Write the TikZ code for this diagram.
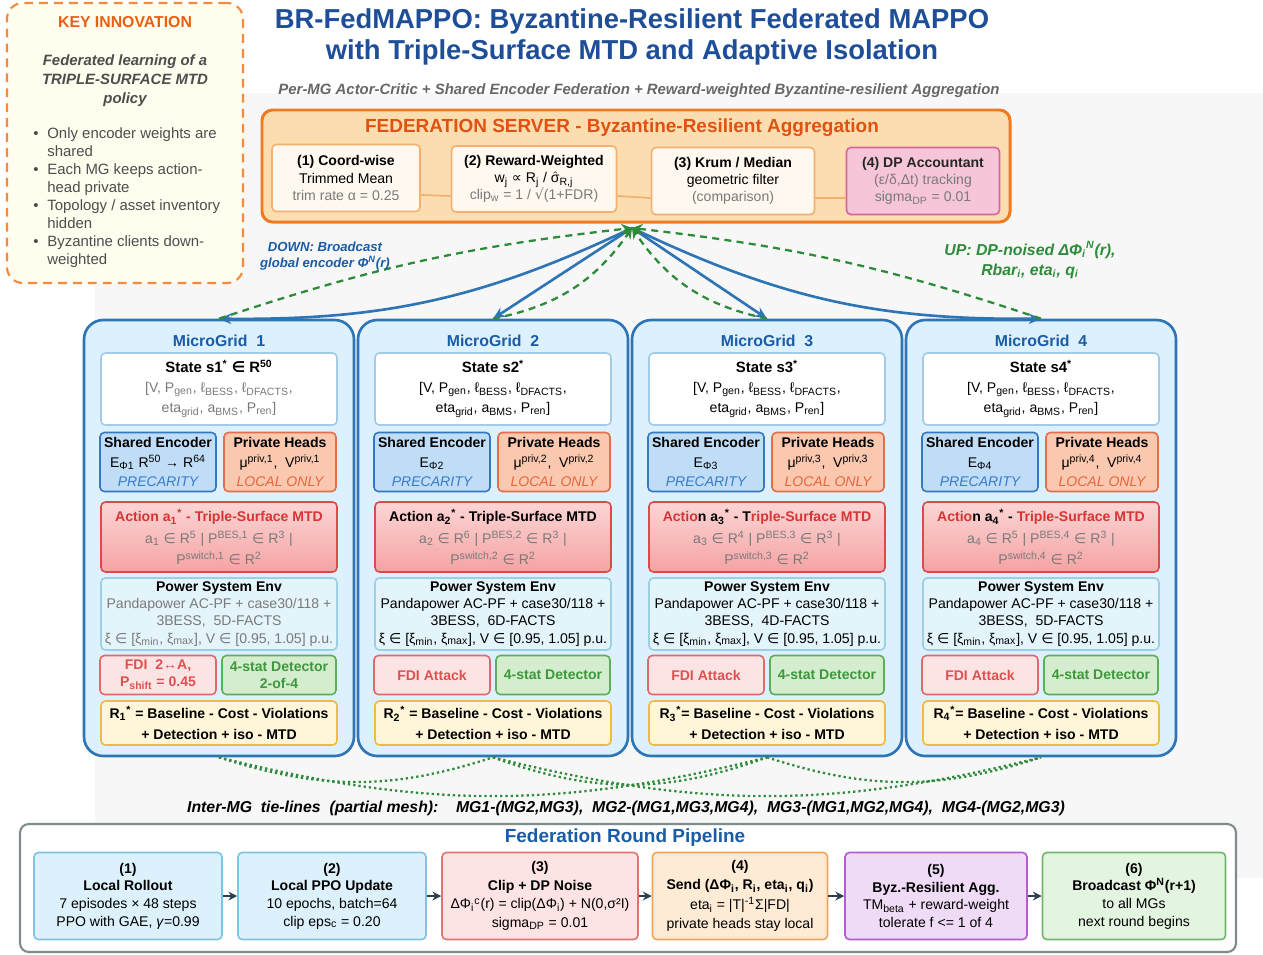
\documentclass[tikz,border=0pt]{standalone}
\usepackage{fontspec}
\setmainfont{Liberation Sans}
\newfontfamily\symfont{DejaVu Sans}
\usetikzlibrary{arrows.meta}
\definecolor{titleblue}{HTML}{1F4E99}
\definecolor{subgray}{HTML}{666666}
\definecolor{panelgray}{HTML}{F7F7F7}
\definecolor{txtgray}{HTML}{7A7A7A}
\definecolor{txtdark}{HTML}{4D4D4D}
\definecolor{keyorange}{HTML}{F58A3C}
\definecolor{keyfill}{HTML}{FFFDEE}
\definecolor{keytitle}{HTML}{E8600F}
\definecolor{srvorange}{HTML}{F07A22}
\definecolor{srvfill}{HTML}{FCDDB0}
\definecolor{srvtitle}{HTML}{E0520F}
\definecolor{aggfill}{HTML}{FFF8EE}
\definecolor{aggdraw}{HTML}{F5B070}
\definecolor{dpfill}{HTML}{F7C5D8}
\definecolor{dpdraw}{HTML}{D565A0}
\definecolor{mgblue}{HTML}{2E75B6}
\definecolor{mgfill}{HTML}{DDF0FD}
\definecolor{mgtitlecol}{HTML}{1A5CA6}
\definecolor{stdraw}{HTML}{A3CBE8}
\definecolor{encfill}{HTML}{BFDDF6}
\definecolor{encdraw}{HTML}{3478C0}
\definecolor{precol}{HTML}{3A7BC8}
\definecolor{hdfill}{HTML}{FAC7AF}
\definecolor{hddraw}{HTML}{E36F4A}
\definecolor{loccol}{HTML}{E8673F}
\definecolor{acttop}{HTML}{FCD5D5}
\definecolor{actbot}{HTML}{F5A3A3}
\definecolor{actdraw}{HTML}{DE4A4A}
\definecolor{actred}{HTML}{D63535}
\definecolor{envfill}{HTML}{E3F4FB}
\definecolor{envdraw}{HTML}{9BCFE4}
\definecolor{fdifill}{HTML}{FDE4E4}
\definecolor{fdidraw}{HTML}{E06A6A}
\definecolor{fdicol}{HTML}{E05050}
\definecolor{detfill}{HTML}{D4EDCE}
\definecolor{detdraw}{HTML}{5DAE58}
\definecolor{detcol}{HTML}{3D993A}
\definecolor{rewfill}{HTML}{FFF6DA}
\definecolor{rewdraw}{HTML}{F0BA45}
\definecolor{arrblue}{HTML}{2E75B6}
\definecolor{arrgreen}{HTML}{2E8B3A}
\definecolor{pipegray}{HTML}{7F8C8D}
\definecolor{pipedark}{HTML}{2C3E50}
\definecolor{pipetitle}{HTML}{1A5CA6}
\definecolor{pafill}{HTML}{DCF1FB}
\definecolor{padraw}{HTML}{7EC4E0}
\definecolor{pcfill}{HTML}{FDE3E3}
\definecolor{pcdraw}{HTML}{E07272}
\definecolor{pdfill}{HTML}{FEEBD6}
\definecolor{pddraw}{HTML}{F2A55A}
\definecolor{pefill}{HTML}{F0DBF6}
\definecolor{pedraw}{HTML}{B45BD0}
\definecolor{pffill}{HTML}{E3F4E0}
\definecolor{pfdraw}{HTML}{72B56D}
\newcommand{\subs}[1]{\textsubscript{#1}}
\newcommand{\sups}[1]{\textsuperscript{#1}}
\newcommand{\inn}{{\symfont ∈}}

\begin{document}
\begin{tikzpicture}[x=0.02cm, y=-0.02cm, font=\fontsize{8}{9.6}\selectfont,
    sz/.style 2 args={minimum width=#1*0.02cm, minimum height=#2*0.02cm},
    bx/.style={draw, rounded corners=2.5pt, align=center, inner sep=1pt, line width=0.9pt},
    aggbox/.style={bx, fill=aggfill, draw=aggdraw, font=\fontsize{8}{9.7}\selectfont},
    mgbox/.style={draw=mgblue, fill=mgfill, line width=1.5pt, rounded corners=11pt, sz={270}{436}},
    mgtitle/.style={text=mgtitlecol, font=\fontsize{9}{10}\selectfont\bfseries},
    statebox/.style={bx, fill=white, draw=stdraw, sz={236}{72}, font=\fontsize{8}{11.4}\selectfont},
    encbox/.style={bx, fill=encfill, draw=encdraw, sz={116}{59}, font=\fontsize{8}{11}\selectfont},
    headbox/.style={bx, fill=hdfill, draw=hddraw, sz={112}{59}, font=\fontsize{8}{11}\selectfont},
    actbox/.style={bx, top color=acttop, bottom color=actbot, draw=actdraw, sz={236}{70}, font=\fontsize{8}{12.2}\selectfont},
    envbox/.style={bx, fill=envfill, draw=envdraw, sz={236}{72}, font=\fontsize{8}{9.7}\selectfont},
    fdibox/.style={bx, fill=fdifill, draw=fdidraw, text=fdicol, sz={116}{39}, font=\fontsize{8}{9.7}\selectfont\bfseries},
    detbox/.style={bx, fill=detfill, draw=detdraw, text=detcol, sz={114}{39}, font=\fontsize{8}{9.7}\selectfont\bfseries},
    rewbox/.style={bx, fill=rewfill, draw=rewdraw, sz={236}{44}, font=\fontsize{8}{12}\selectfont\bfseries},
    pbox/.style={bx, minimum height=87*0.02cm, font=\fontsize{8}{10}\selectfont},
    blueline/.style={draw=arrblue, line width=1.5pt, -{Stealth[length=7pt, width=6pt]}},
    greendash/.style={draw=arrgreen, line width=1.3pt, dash pattern=on 4pt off 3pt, -{Stealth[length=6pt, width=6pt]}},
    tieline/.style={draw=arrgreen, line width=1.3pt, dash pattern=on 1.3pt off 1.7pt},
    pipearrow/.style={draw=pipedark, line width=1.5pt, -{Stealth[length=5pt, width=5pt]}}]

    \useasboundingbox (0,0) rectangle (1263,954);
    \fill[panelgray] (95,93) rectangle (1263,878);

    % title
    \node (title) [align=center, text=titleblue, font=\fontsize{15.6}{17.6}\selectfont\bfseries] at (632,37)
        {BR-FedMAPPO: Byzantine-Resilient Federated MAPPO\\with Triple-Surface MTD and Adaptive Isolation};
    \node (subtitle) [text=subgray, font=\fontsize{8.5}{10}\selectfont\bfseries\itshape] at (639,91)
        {Per-MG Actor-Critic + Shared Encoder Federation + Reward-weighted Byzantine-resilient Aggregation};

    % key innovation
    \node (key) [bx, draw=keyorange, fill=keyfill, dash pattern=on 5pt off 3.5pt, line width=1.2pt, rounded corners=9pt, sz={236}{280}] at (125,143) {};
    \node (keyhead) [text=keytitle, font=\fontsize{9}{10}\selectfont\bfseries] at (125,22) {KEY INNOVATION};
    \node (keysub) [align=center, text=txtdark, font=\fontsize{8.5}{10.8}\selectfont\bfseries\itshape] at (125,81)
        {Federated learning of a\\TRIPLE-SURFACE MTD\\policy};
    \node (keylist) [anchor=north west, inner sep=0pt, text=txtdark, font=\fontsize{8.5}{10.3}\selectfont] at (33,125) {%
        \begin{tabular}{@{}l@{\hspace{5pt}}l@{}}
        \textbullet & Only encoder weights are\\ & shared\\
        \textbullet & Each MG keeps action-\\ & head private\\
        \textbullet & Topology / asset inventory\\ & hidden\\
        \textbullet & Byzantine clients down-\\ & weighted
        \end{tabular}};

    % federation server
    \node (srv) [draw=srvorange, fill=srvfill, line width=1.7pt, rounded corners=6pt, sz={748}{112}] at (636,166) {};
    \node (srvhead) [text=srvtitle, font=\fontsize{10.8}{12}\selectfont\bfseries] at (622,128)
        {FEDERATION SERVER - Byzantine-Resilient Aggregation};
    \node (agg1) [aggbox, sz={148}{67}] at (346,178)
        {\textbf{(1) Coord-wise}\\Trimmed Mean\\\textcolor{txtgray}{trim rate α = 0.25}};
    \node (agg2) [aggbox, sz={165}{66}] at (534,179)
        {\textbf{(2) Reward-Weighted}\\w\subs{j} {\symfont ∝} R\subs{j} / \ensuremath{\hat{\hbox{σ}}}\subs{R,j}\\\textcolor{txtgray}{clip\subs{w} = 1 / {\symfont √}(1+FDR)}};
    \node (agg3) [aggbox, sz={163}{67}] at (733,181)
        {\textbf{(3) Krum / Median}\\geometric filter\\\textcolor{txtgray}{(comparison)}};
    \node (agg4) [aggbox, fill=dpfill, draw=dpdraw, text=txtgray, sz={153}{67}] at (923,181)
        {\textcolor{black!85}{\textbf{(4) DP Accountant}}\\(ε/δ,Δt) tracking\\sigma\subs{DP} = 0.01};
    \draw[aggdraw, line width=1pt] ([yshift=-0.34cm]agg1.east) -- ([yshift=-0.34cm]agg2.west);
    \draw[aggdraw, line width=1pt] ([yshift=-0.34cm]agg2.east) -- ([yshift=-0.34cm]agg3.west);
    \draw[aggdraw, line width=1pt] ([yshift=-0.34cm]agg3.east) -- ([yshift=-0.34cm]agg4.west);

    % microgrids
    \foreach \i/\lx/\ad/\fd in {1/84/5/5, 2/358/6/6, 3/632/4/4, 4/906/5/5} {
        \pgfmathsetmacro{\cx}{\lx+135}
        \pgfmathsetmacro{\xa}{\lx+74}
        \pgfmathsetmacro{\xb}{\lx+196}
        \pgfmathsetmacro{\xc}{\lx+195}
        \ifnum\i=1 \def\tc{txtgray}\else\def\tc{black}\fi
        \node (mg\i) [mgbox] at (\cx,538) {};
        \node (mghead\i) [mgtitle] at (\cx,341) {MicroGrid\ \ \i};
        \node (state\i) [statebox, text=\tc] at (\cx,389)
            {\textcolor{black}{\fontsize{8.5}{10}\selectfont\bfseries State s\i\sups{*}\ifnum\i=1{} \inn{} R\sups{50}\fi}\\{}%
             [V, P\subs{gen}, ℓ\subs{BESS}, ℓ\subs{DFACTS},\\eta\subs{grid}, a\subs{BMS}, P\subs{ren}]};
        \node (enc\i) [encbox] at (\xa,462)
            {\textbf{Shared Encoder}\\E\subs{Φ\i}\ifnum\i=1{} R\sups{50} → R\sups{64}\fi\\\textcolor{precol}{\itshape PRECARITY}};
        \node (head\i) [headbox] at (\xb,462)
            {\textbf{Private Heads}\\μ\sups{priv,\i},\ \ V\sups{priv,\i}\\\textcolor{loccol}{\itshape LOCAL ONLY}};
        \node (act\i) [actbox, text=txtgray] at (\cx,537)
            {\textcolor{black}{\bfseries\ifcase\i\or
                \textcolor{actred}{Action a\subs{1}\sups{*} - Triple-Surface MTD}\or
                Action a\subs{2}\sups{*} - Triple-Surface MTD\or
                \textcolor{actred}{Actio}n a\subs{3}\sups{*} - T\textcolor{actred}{riple-Surface MTD}\or
                \textcolor{actred}{Actio}n a\subs{4}\sups{*} - \textcolor{actred}{Triple-Surface MTD}\fi}\\
             a\subs{\i} \inn{} R\sups{\ad} | P\sups{BES,\i} \inn{} R\sups{3} |\\P\sups{switch,\i} \inn{} R\sups{2}};
        \node (env\i) [envbox, text=\tc] at (\cx,614)
            {\textcolor{black}{\bfseries Power System Env}\\Pandapower AC-PF + case30/118 +\\3BESS,\ \ \fd D-FACTS\\
             ξ \inn{} [ξ\subs{min}, ξ\subs{max}], V \inn{} [0.95, 1.05] p.u.};
        \node (fdi\i) [fdibox] at (\xa,675)
            {\ifnum\i=1 FDI\ \ 2↔A,\\P\subs{shift} = 0.45\else FDI Attack\fi};
        \node (det\i) [detbox] at (\xc,675)
            {\ifnum\i=1 4-stat Detector\\2-of-4\else 4-stat Detector\fi};
        \node (rew\i) [rewbox] at (\cx,723)
            {R\subs{\i}\sups{*}\ifnum\i<3\ \fi= Baseline - Cost - Violations\\+ Detection + iso - MTD};
    }

    % server <-> microgrids
    \coordinate (hub) at (632,228);
    \draw[blueline] (hub) to[bend left=13] (mg1.north);
    \draw[blueline] (hub) -- (mg2.north);
    \draw[blueline] (hub) -- (mg3.north);
    \draw[blueline] (hub) to[bend right=13] (mg4.north);
    \draw[greendash] (mg1.north) to[bend left=6] (hub);
    \draw[greendash] (mg2.north) to[bend right=22] (hub);
    \draw[greendash] (mg3.north) to[bend left=22] (hub);
    \draw[greendash] (mg4.north) to[bend right=6] (hub);
    \node (downlbl) [align=center, text=mgtitlecol, font=\fontsize{7.5}{9.5}\selectfont\bfseries\itshape] at (325,256)
        {DOWN: Broadcast\\global encoder Φ\sups{N}(r)};
    \node (uplbl) [align=center, text=arrgreen, font=\fontsize{9}{11.5}\selectfont\bfseries\itshape] at (1030,260)
        {UP: DP-noised ΔΦ\subs{i}\sups{N}(r),\\Rbar\subs{i}, eta\subs{i}, q\subs{i}};

    % tie-lines
    \draw[tieline] (mg1.south) to[bend right=18] (mg2.south);
    \draw[tieline] (mg1.south) to[bend right=14] (mg3.south);
    \draw[tieline] (mg2.south) to[bend right=20] (mg3.south);
    \draw[tieline] (mg2.south) to[bend right=14] (mg4.south);
    \draw[tieline] (mg3.south) to[bend right=18] (mg4.south);
    \node (tielbl) [font=\fontsize{9}{10}\selectfont\bfseries\itshape] at (626,808)
        {Inter-MG\ \ tie-lines\ \ (partial mesh):\ \ \ \ MG1-(MG2,MG3),\ \ MG2-(MG1,MG3,MG4),\ \ MG3-(MG1,MG2,MG4),\ \ MG4-(MG2,MG3)};

    % pipeline
    \node (pipe) [draw=pipegray, fill=white, line width=1.2pt, rounded corners=5pt, sz={1216}{128}] at (628,888) {};
    \node (pipehead) [text=pipetitle, font=\fontsize{10.8}{12}\selectfont\bfseries] at (625,838) {Federation Round Pipeline};
    \node (step1) [pbox, fill=pafill, draw=padraw, minimum width=188*0.02cm] at (128,896)
        {\textbf{(1)}\\\textbf{Local Rollout}\\7 episodes × 48 steps\\PPO with GAE, \textit{γ}=0.99};
    \node (step2) [pbox, fill=pafill, draw=padraw, minimum width=188*0.02cm] at (332,896)
        {\textbf{(2)}\\\textbf{Local PPO Update}\\10 epochs, batch=64\\clip eps\subs{c} = 0.20};
    \node (step3) [pbox, fill=pcfill, draw=pcdraw, minimum width=196*0.02cm, font=\fontsize{8}{10.6}\selectfont] at (540,896)
        {\textbf{(3)}\\\textbf{Clip + DP Noise}\\ΔΦ\subs{i}\sups{c}(r) = clip(ΔΦ\subs{i}) + N(0,σ²I)\\sigma\subs{DP} = 0.01};
    \node (step4) [pbox, fill=pdfill, draw=pddraw, minimum width=175*0.02cm, font=\fontsize{8}{11}\selectfont] at (740,896)
        {\textbf{(4)}\\\textbf{Send (ΔΦ\subs{i}, R\subs{i}, eta\subs{i}, q\subs{i})}\\eta\subs{i} = |T|\sups{-1}Σ|FD|\\private heads stay local};
    \node (step5) [pbox, fill=pefill, draw=pedraw, minimum width=182*0.02cm] at (936,896)
        {\textbf{(5)}\\\textbf{Byz.-Resilient Agg.}\\TM\subs{beta} + reward-weight\\tolerate f <= 1 of 4};
    \node (step6) [pbox, fill=pffill, draw=pfdraw, minimum width=183*0.02cm] at (1134,896)
        {\textbf{(6)}\\\textbf{Broadcast Φ\sups{N}(r+1)}\\to all MGs\\next round begins};
    \draw[pipearrow] (step1) -- (step2);
    \draw[pipearrow] (step2) -- (step3);
    \draw[pipearrow] (step3) -- (step4);
    \draw[pipearrow] (step4) -- (step5);
    \draw[pipearrow] (step5) -- (step6);
\end{tikzpicture}
\end{document}
